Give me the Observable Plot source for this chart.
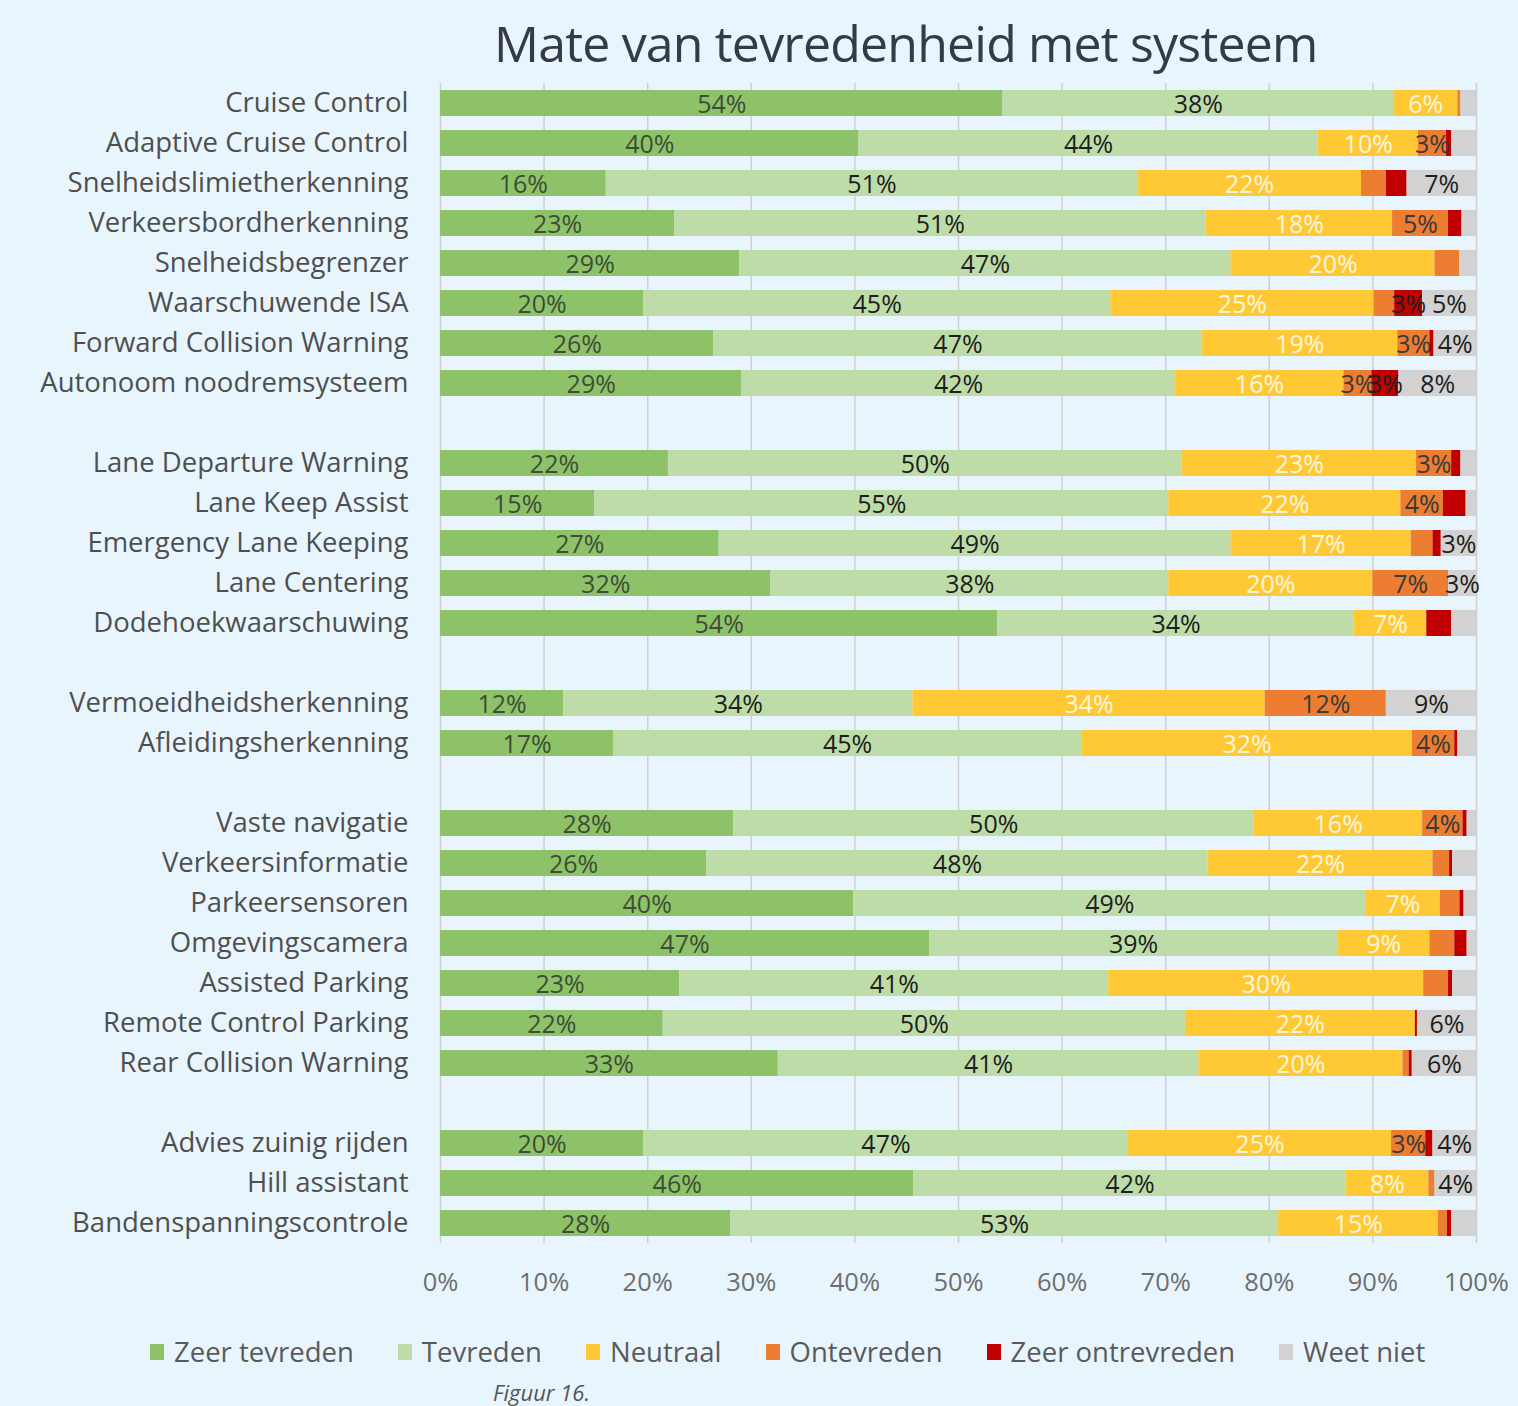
<!DOCTYPE html>
<html>
<head>
<meta charset="utf-8">
<script src="https://cdn.jsdelivr.net/npm/d3@7"></script>
<script src="https://cdn.jsdelivr.net/npm/@observablehq/plot@0.6"></script>
<style>
  html, body { margin: 0; padding: 0; background: #E9F5FD; }
  body { width: 1518px; height: 1406px; font-family: "Open Sans", sans-serif; overflow: hidden; }
  #title { height: 80px; box-sizing: border-box; padding-top: 5px; line-height: 76px; font-size: 50px; color: #353b45; padding-left: 494px; white-space: nowrap; letter-spacing: -0.8px; }
  #chart svg { display: block; }
  #legend { display: flex; gap: 44px; padding-left: 150px; margin-top: 29px; height: 40px; line-height: 40px; font-size: 27.5px; color: #5a5a5a; }
  #legend .item { display: flex; align-items: center; gap: 10px; white-space: nowrap; }
  #legend .sw { width: 14px; height: 16px; display: inline-block; }
  #caption { margin-top: 5px; padding-left: 493px; font-size: 22px; font-style: italic; color: #555; line-height: 30px; }
</style>
</head>
<body>
<div id="title"></div>
<div id="chart"></div>
<div id="legend"></div>
<div id="caption"></div>
<script>
const title = "Mate van tevredenheid met systeem";
const caption = "Figuur 16.";

const groups = [
  ["Cruise Control", "Adaptive Cruise Control", "Snelheidslimietherkenning", "Verkeersbordherkenning",
   "Snelheidsbegrenzer", "Waarschuwende ISA", "Forward Collision Warning", "Autonoom noodremsysteem"],
  ["Lane Departure Warning", "Lane Keep Assist", "Emergency Lane Keeping", "Lane Centering", "Dodehoekwaarschuwing"],
  ["Vermoeidheidsherkenning", "Afleidingsherkenning"],
  ["Vaste navigatie", "Verkeersinformatie", "Parkeersensoren", "Omgevingscamera", "Assisted Parking",
   "Remote Control Parking", "Rear Collision Warning"],
  ["Advies zuinig rijden", "Hill assistant", "Bandenspanningscontrole"]
];

const series = ["Zeer tevreden", "Tevreden", "Neutraal", "Ontevreden", "Zeer ontrevreden", "Weet niet"];
const seriesColors = ["#8DC269", "#BDDCA7", "#FFC935", "#EC7D31", "#C00000", "#D2D2D2"];
const labelColors = ["#3e4d35", "#1e1e1e", "#FFF6DC", "#3a3a3a", "#1e1e1e", "#1e1e1e"];

// values in %, one per category in order of groups
const zeerTevreden   = [54.3, 40.4, 16.0, 22.6, 28.9, 19.6, 26.4, 29.1, 22.0, 14.9, 26.9, 31.9, 53.8, 11.9, 16.7, 28.3, 25.7, 39.9, 47.2, 23.1, 21.5, 32.6, 19.6, 45.7, 28.0];
const tevreden       = [37.7, 44.3, 51.3, 51.3, 47.4, 45.1, 47.1, 41.8, 49.6, 55.4, 49.4, 38.4, 34.4, 33.7, 45.2, 50.2, 48.4, 49.4, 39.4, 41.4, 50.4, 40.6, 46.8, 41.7, 52.9];
const neutraal       = [6.2, 9.7, 21.6, 18.0, 19.7, 25.4, 18.9, 16.3, 22.6, 22.4, 17.4, 19.7, 7.0, 34.0, 31.9, 16.3, 21.7, 7.2, 8.9, 30.4, 22.2, 19.7, 25.4, 8.0, 15.4];
const ontevreden     = [0.3, 2.7, 2.4, 5.4, 2.4, 2.0, 3.1, 2.7, 3.4, 4.1, 2.1, 7.3, 0, 11.7, 4.1, 3.9, 1.6, 1.9, 2.4, 2.4, 0, 0.6, 3.3, 0.6, 0.9];
const zeerOntevreden = [0, 0.5, 2.0, 1.3, 0, 2.7, 0.4, 2.6, 0.9, 2.2, 0.8, 0, 2.4, 0, 0.3, 0.4, 0.3, 0.4, 1.2, 0.4, 0.2, 0.3, 0.7, 0, 0.4];
const weetNiet       = [1.5, 2.4, 6.7, 1.4, 1.6, 5.2, 4.1, 7.5, 1.5, 1.0, 3.4, 2.7, 2.4, 8.7, 1.8, 0.9, 2.3, 1.2, 0.9, 2.3, 5.7, 6.2, 4.2, 4.0, 2.4];

const xTicks = [0, 10, 20, 30, 40, 50, 60, 70, 80, 90, 100];

// ---- build tables ----
const valueArrays = [zeerTevreden, tevreden, neutraal, ontevreden, zeerOntevreden, weetNiet];
const categories = groups.flat();
const yDomain = [];
groups.forEach((g, gi) => { if (gi > 0) yDomain.push("__gap" + gi); yDomain.push(...g); });

const rows = [];
categories.forEach((cat, i) => {
  let acc = 0;
  series.forEach((s, si) => {
    const v = valueArrays[si][i];
    rows.push({cat, series: s, si, value: v, x1: acc, x2: acc + v, mid: acc + v / 2});
    acc += v;
  });
});

const textMarks = series.map((s, si) =>
  Plot.text(rows.filter(d => d.si === si && Math.round(d.value) >= 3), {
    x: "mid", y: "cat", text: d => Math.round(d.value) + "%",
    fill: labelColors[si], fontSize: 25, dy: 1
  })
);

const chart = Plot.plot({
  width: 1518,
  height: 1223,
  marginLeft: 440,
  marginRight: 42,
  marginTop: 3,
  marginBottom: 60,
  style: {background: "transparent", fontFamily: "Open Sans, sans-serif"},
  x: {domain: [0, 100], label: null},
  y: {type: "band", domain: yDomain, paddingInner: 0.35, paddingOuter: 0.175, label: null},
  color: {domain: series, range: seriesColors},
  marks: [
    Plot.gridX(xTicks, {stroke: "#cfcfcf", strokeOpacity: 1, strokeWidth: 1.5}),
    Plot.barX(rows, {x1: "x1", x2: "x2", y: "cat", fill: "series"}),
    ...textMarks,
    Plot.axisX(xTicks, {tickSize: 0, tickPadding: 29, fontSize: 25.5, color: "#6e6e6e",
      tickFormat: d => d + "%", label: null}),
    Plot.axisY({tickSize: 0, tickPadding: 32, fontSize: 27.5, color: "#4f4f4f",
      tickFormat: d => d.startsWith("__gap") ? "" : d, label: null})
  ]
});

document.getElementById("title").textContent = title;
document.getElementById("chart").appendChild(chart);
document.getElementById("caption").textContent = caption;
const legend = document.getElementById("legend");
series.forEach((s, i) => {
  const it = document.createElement("div");
  it.className = "item";
  const sw = document.createElement("span");
  sw.className = "sw";
  sw.style.background = seriesColors[i];
  const t = document.createElement("span");
  t.textContent = s;
  it.appendChild(sw); it.appendChild(t);
  legend.appendChild(it);
});
</script>
</body>
</html>
